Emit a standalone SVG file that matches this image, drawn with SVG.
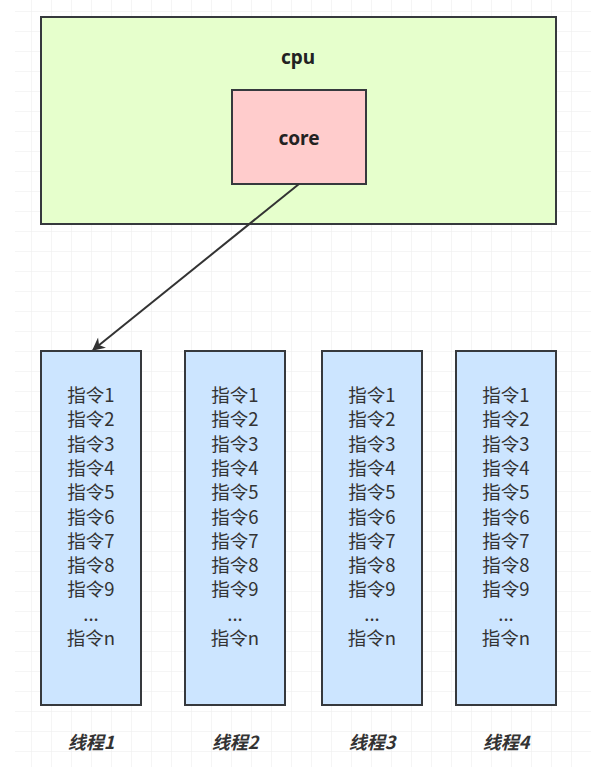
<svg xmlns="http://www.w3.org/2000/svg" width="612" height="767" viewBox="0 0 612 767">
<defs>
<pattern id="grid" x="11" y="11" width="20" height="20" patternUnits="userSpaceOnUse">
<path d="M20 0 L0 0 L0 20" fill="none" stroke="#ececec" stroke-width="1"/>
</pattern>
<marker id="arr" viewBox="0 0 10 10" refX="9" refY="5" markerWidth="15" markerHeight="13" orient="auto" markerUnits="userSpaceOnUse">
<path d="M0 0 L10 5 L0 10 L3 5 Z" fill="#333"/>
</marker>
</defs>
<style>
.box{stroke:#36393d;stroke-width:2}
.lbl{font-family:"Noto Sans","Noto Sans CJK SC",sans-serif;font-weight:bold;font-size:19px;fill:#222;text-anchor:middle}
.ins{font-family:"Noto Sans CJK SC","Noto Sans",sans-serif;font-size:18.5px;fill:#333;text-anchor:middle}
.thr{font-family:"Noto Sans CJK SC","Noto Sans",sans-serif;font-size:18px;font-weight:bold;font-style:italic;fill:#333;text-anchor:middle}
</style>
<rect width="612" height="767" fill="#fff"/>
<rect x="15" y="0" width="576" height="767" fill="url(#grid)"/>
<g id="cpu">
<rect class="box" x="41" y="17" width="515" height="207" fill="#e6ffcc"/>
<text class="lbl" x="298" y="64">cpu</text>
</g>
<g id="core">
<rect class="box" x="232" y="90" width="134" height="94" fill="#ffcccc"/>
<text class="lbl" x="299" y="145">core</text>
</g>
<g id="connectors">
<line x1="299" y1="184" x2="93" y2="350" stroke="#333" stroke-width="2" marker-end="url(#arr)"/>
</g>
<g id="thread1">
<rect class="box" x="41" y="351" width="100" height="354" fill="#cce5ff"/>
<text class="ins" x="91" y="402">指令1<tspan x="91" dy="24.3">指令2</tspan><tspan x="91" dy="24.3">指令3</tspan><tspan x="91" dy="24.3">指令4</tspan><tspan x="91" dy="24.3">指令5</tspan><tspan x="91" dy="24.3">指令6</tspan><tspan x="91" dy="24.3">指令7</tspan><tspan x="91" dy="24.3">指令8</tspan><tspan x="91" dy="24.3">指令9</tspan><tspan x="91" dy="24.3">...</tspan><tspan x="91" dy="24.3">指令n</tspan></text>
<text class="thr" x="91" y="749">线程1</text>
</g>
<g id="thread2">
<rect class="box" x="185" y="351" width="100" height="354" fill="#cce5ff"/>
<text class="ins" x="235" y="402">指令1<tspan x="235" dy="24.3">指令2</tspan><tspan x="235" dy="24.3">指令3</tspan><tspan x="235" dy="24.3">指令4</tspan><tspan x="235" dy="24.3">指令5</tspan><tspan x="235" dy="24.3">指令6</tspan><tspan x="235" dy="24.3">指令7</tspan><tspan x="235" dy="24.3">指令8</tspan><tspan x="235" dy="24.3">指令9</tspan><tspan x="235" dy="24.3">...</tspan><tspan x="235" dy="24.3">指令n</tspan></text>
<text class="thr" x="235" y="749">线程2</text>
</g>
<g id="thread3">
<rect class="box" x="322" y="351" width="100" height="354" fill="#cce5ff"/>
<text class="ins" x="372" y="402">指令1<tspan x="372" dy="24.3">指令2</tspan><tspan x="372" dy="24.3">指令3</tspan><tspan x="372" dy="24.3">指令4</tspan><tspan x="372" dy="24.3">指令5</tspan><tspan x="372" dy="24.3">指令6</tspan><tspan x="372" dy="24.3">指令7</tspan><tspan x="372" dy="24.3">指令8</tspan><tspan x="372" dy="24.3">指令9</tspan><tspan x="372" dy="24.3">...</tspan><tspan x="372" dy="24.3">指令n</tspan></text>
<text class="thr" x="372" y="749">线程3</text>
</g>
<g id="thread4">
<rect class="box" x="456" y="351" width="100" height="354" fill="#cce5ff"/>
<text class="ins" x="506" y="402">指令1<tspan x="506" dy="24.3">指令2</tspan><tspan x="506" dy="24.3">指令3</tspan><tspan x="506" dy="24.3">指令4</tspan><tspan x="506" dy="24.3">指令5</tspan><tspan x="506" dy="24.3">指令6</tspan><tspan x="506" dy="24.3">指令7</tspan><tspan x="506" dy="24.3">指令8</tspan><tspan x="506" dy="24.3">指令9</tspan><tspan x="506" dy="24.3">...</tspan><tspan x="506" dy="24.3">指令n</tspan></text>
<text class="thr" x="506" y="749">线程4</text>
</g>
</svg>
